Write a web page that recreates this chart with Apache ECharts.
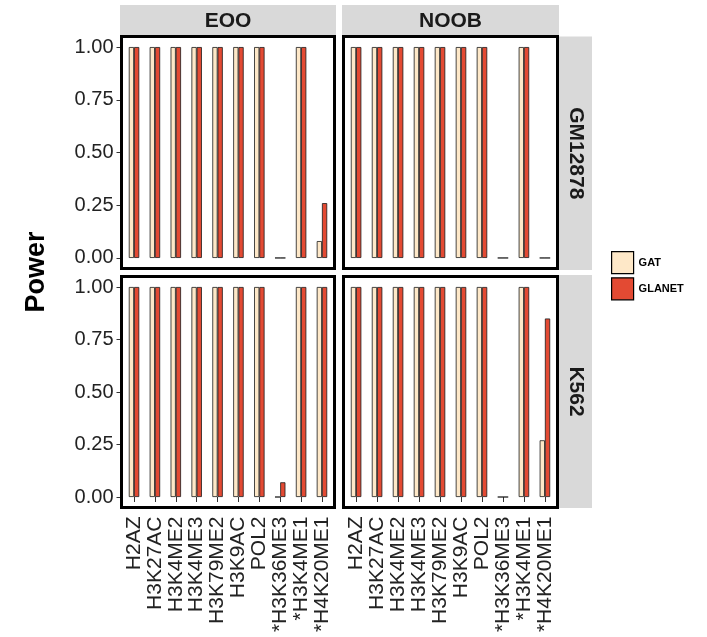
<!DOCTYPE html>
<html>
<head>
<meta charset="utf-8">
<script src="https://cdn.jsdelivr.net/npm/echarts@6/dist/echarts.min.js"></script>
<style>
html,body{margin:0;padding:0;background:#fff;}
#c{width:707px;height:637px;}
</style>
</head>
<body>
<div id="c"></div>
<script>
// ---- data ----
var categories = ['H2AZ','H3K27AC','H3K4ME2','H3K4ME3','H3K79ME2','H3K9AC','POL2','*H3K36ME3','*H3K4ME1','*H4K20ME1'];
var methods = ['GAT','GLANET'];
var columns = ['EOO','NOOB'];
var rows = ['GM12878','K562'];
var yTicks = [0, 0.25, 0.5, 0.75, 1];

var gatEooGM12878     = [1,1,1,1,1,1,1,0,1,0.08];
var glanetEooGM12878  = [1,1,1,1,1,1,1,0,1,0.26];
var gatNoobGM12878    = [1,1,1,1,1,1,1,0,1,0];
var glanetNoobGM12878 = [1,1,1,1,1,1,1,0,1,0];
var gatEooK562        = [1,1,1,1,1,1,1,0,1,1];
var glanetEooK562     = [1,1,1,1,1,1,1,0.07,1,1];
var gatNoobK562       = [1,1,1,1,1,1,1,0,1,0.27];
var glanetNoobK562    = [1,1,1,1,1,1,1,0,1,0.85];

var panelData = [
  [gatEooGM12878, glanetEooGM12878],
  [gatNoobGM12878, glanetNoobGM12878],
  [gatEooK562, glanetEooK562],
  [gatNoobK562, glanetNoobK562]
];

// ---- layout / style ----
var colors = ['#FEE8C8', '#E34A33'];
var textColor = '#222';
var panels = [
  {x0:121.5, x1:334.5, y0:36.5, y1:268.5, col:0, row:0},
  {x0:343.5, x1:557.5, y0:36.5, y1:268.5, col:1, row:0},
  {x0:121.5, x1:334.5, y0:276.5, y1:507.5, col:0, row:1},
  {x0:343.5, x1:557.5, y0:276.5, y1:507.5, col:1, row:1}
];

var grids = [], xAxes = [], yAxes = [], series = [], graphics = [];
panels.forEach(function(p, i){
  var W = p.x1 - p.x0;
  var u = W / 10.2;
  var off = 0.1 * u;
  grids.push({left: p.x0 + off, width: W - 2*off, top: p.y0, height: p.y1 - p.y0, containLabel:false});
  var showX = p.row === 1;
  var showY = p.col === 0;
  xAxes.push({
    type:'category', gridIndex:i, data:categories,
    axisLine:{show:false},
    axisTick:{show:showX, alignWithLabel:true, length:5, lineStyle:{color:'#333', width:1}},
    axisLabel:{show:showX, rotate:90, margin:9, fontSize:21, color:textColor, fontFamily:'Liberation Sans, Arial, sans-serif', interval:0},
    splitLine:{show:false}
  });
  yAxes.push({
    type:'value', gridIndex:i, min:-0.05, max:1.05, offset: off,
    axisLine:{show:false},
    axisTick:{show:showY, length:5, customValues:yTicks, lineStyle:{color:'#333', width:1}},
    axisLabel:{show:showY, customValues:yTicks, margin:8, fontSize:20, color:textColor, fontFamily:'Liberation Sans, Arial, sans-serif',
      formatter:function(v){return v.toFixed(2);}},
    splitLine:{show:false}
  });
  methods.forEach(function(m, k){
    series.push({
      type:'bar', name:m, xAxisIndex:i, yAxisIndex:i,
      data: panelData[i][k],
      barWidth:'25%', barGap:'0%',
      itemStyle:{color:colors[k], borderColor:'#1a1a1a', borderWidth:0.8},
      emphasis:{disabled:true},
      animation:false
    });
  });
  // panel border
  graphics.push({type:'rect', z:100, silent:true,
    shape:{x:p.x0, y:p.y0, width:W, height:p.y1-p.y0},
    style:{fill:null, stroke:'#000', lineWidth:3}});
});

// top strips
var stripTops = [{x:120, w:216}, {x:342, w:217}];
columns.forEach(function(c, j){
  var s = stripTops[j];
  graphics.push({type:'rect', z:1, silent:true, shape:{x:s.x, y:5, width:s.w, height:31}, style:{fill:'#D9D9D9'}});
  graphics.push({type:'text', z:101, silent:true, x:s.x + s.w/2, y:21,
    style:{text:c, font:'bold 21px "Liberation Sans", Arial, sans-serif', fill:'#1a1a1a', align:'center', verticalAlign:'middle'}});
});
// right strips
var stripRights = [{y:36.5, h:233.5}, {y:275, h:233}];
rows.forEach(function(r, j){
  var s = stripRights[j];
  graphics.push({type:'rect', z:1, silent:true, shape:{x:559, y:s.y, width:33, height:s.h}, style:{fill:'#D9D9D9'}});
  graphics.push({type:'text', z:101, silent:true, x:576, y:s.y + s.h/2, rotation:-Math.PI/2,
    style:{text:r, font:'bold 21px "Liberation Sans", Arial, sans-serif', fill:'#1a1a1a', align:'center', verticalAlign:'middle'}});
});
// y title
graphics.push({type:'text', z:101, silent:true, x:37, y:272, rotation:Math.PI/2,
  style:{text:'Power', font:'bold 27px "Liberation Sans", Arial, sans-serif', fill:'#000', align:'center', verticalAlign:'middle'}});

var chart = echarts.init(document.getElementById('c'), null, {renderer:'canvas'});
chart.setOption({
  animation:false,
  backgroundColor:'#fff',
  grid:grids, xAxis:xAxes, yAxis:yAxes, series:series,
  legend:{
    data:methods, orient:'vertical', left:606, top:246,
    itemWidth:22, itemHeight:22, itemGap:3, icon:'rect',
    itemStyle:{borderColor:'#000', borderWidth:1.2},
    textStyle:{fontSize:11, fontWeight:'bold', color:'#000', fontFamily:'Liberation Sans, Arial, sans-serif'},
    selectedMode:false
  },
  graphic:graphics
});
</script>
</body>
</html>
